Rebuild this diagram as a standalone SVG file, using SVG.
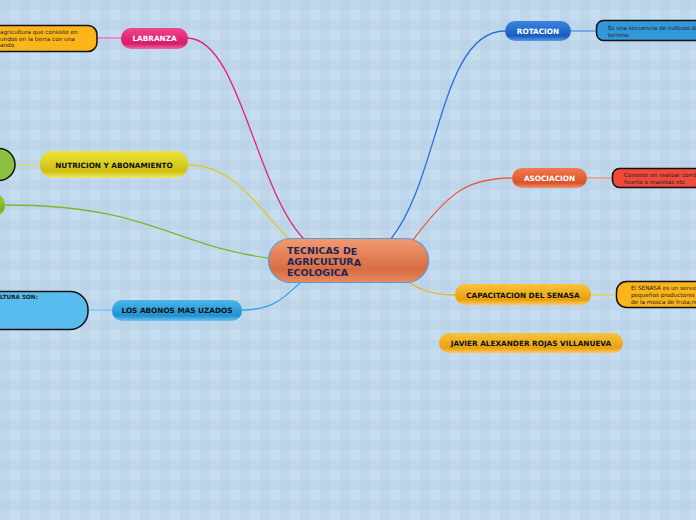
<svg xmlns="http://www.w3.org/2000/svg" width="696" height="520" viewBox="0 0 696 520">
<defs>
<pattern id="plaid" width="20" height="20" patternUnits="userSpaceOnUse">
<rect width="20" height="20" fill="#c6ddf0"/>
<rect x="0" y="0" width="10" height="20" fill="#b8cfe5" opacity="0.5"/>
<rect x="0" y="0" width="20" height="10" fill="#b8cfe5" opacity="0.5"/>
</pattern>
<linearGradient id="gCenter" x1="0" y1="0" x2="0" y2="1"><stop offset="0" stop-color="#f29a72"/><stop offset="0.7" stop-color="#d86c42"/><stop offset="1" stop-color="#e88a60"/></linearGradient>
<linearGradient id="gPink" x1="0" y1="0" x2="0" y2="1"><stop offset="0" stop-color="#f0458d"/><stop offset="0.75" stop-color="#d81a6a"/><stop offset="1" stop-color="#f06aa2"/></linearGradient>
<linearGradient id="gYellow" x1="0" y1="0" x2="0" y2="1"><stop offset="0" stop-color="#ece43a"/><stop offset="0.75" stop-color="#cfbf10"/><stop offset="1" stop-color="#ede86a"/></linearGradient>
<linearGradient id="gGreen" x1="0" y1="0" x2="0" y2="1"><stop offset="0" stop-color="#9ccf3c"/><stop offset="0.75" stop-color="#78b020"/><stop offset="1" stop-color="#a6d860"/></linearGradient>
<linearGradient id="gBlueL" x1="0" y1="0" x2="0" y2="1"><stop offset="0" stop-color="#4cb6ea"/><stop offset="0.75" stop-color="#1f92d2"/><stop offset="1" stop-color="#6cc4f0"/></linearGradient>
<linearGradient id="gBlueD" x1="0" y1="0" x2="0" y2="1"><stop offset="0" stop-color="#3a86e0"/><stop offset="0.75" stop-color="#1a5cc0"/><stop offset="1" stop-color="#5a9ae8"/></linearGradient>
<linearGradient id="gRed" x1="0" y1="0" x2="0" y2="1"><stop offset="0" stop-color="#f27a50"/><stop offset="0.75" stop-color="#dc5228"/><stop offset="1" stop-color="#f29070"/></linearGradient>
<linearGradient id="gOrange" x1="0" y1="0" x2="0" y2="1"><stop offset="0" stop-color="#f8c43a"/><stop offset="0.75" stop-color="#e8a010"/><stop offset="1" stop-color="#f8cc60"/></linearGradient>
</defs>
<style>
.t{font-family:"DejaVu Sans",Verdana,sans-serif;font-weight:bold;font-size:7.3px;}
.w{fill:#ffffff;}
.k{fill:#111111;}
.c{fill:#1a2858;font-size:9.5px;}
.leaf{stroke:#111;stroke-width:1.5;}
.lt{font-family:"DejaVu Sans",Verdana,sans-serif;font-size:5.7px;fill:#222;}
.con{fill:none;stroke-width:1.3;}
</style>
<rect width="696" height="520" fill="url(#plaid)"/>

<g id="connectors">
<path class="con" stroke="#e8207a" d="M188,38 C240,40 255,190 305,240"/>
<path class="con" stroke="#d8cc30" d="M188,165 C235,165 255,205 290,240"/>
<path class="con" stroke="#7ab82a" stroke-width="1.6" d="M5,205 C150,205 170,245 268,258"/>
<path class="con" stroke="#30a8e0" d="M242,310 C275,310 285,296 300,283"/>
<path class="con" stroke="#2a70d8" d="M390,240 C440,180 440,31 505,31"/>
<path class="con" stroke="#e86040" d="M413,240 C450,190 470,178 512,178"/>
<path class="con" stroke="#f0b020" d="M410,283 C425,293 440,295 455,295"/>
<line class="con" stroke="#e870a8" x1="97" y1="38" x2="121" y2="38"/>
<line class="con" stroke="#e0da60" x1="15" y1="165" x2="40" y2="165"/>
<line class="con" stroke="#70c4f0" x1="88" y1="310" x2="112" y2="310"/>
<line class="con" stroke="#5090e0" x1="571" y1="31" x2="596" y2="31"/>
<line class="con" stroke="#f09070" x1="587" y1="178" x2="612" y2="178"/>
<line class="con" stroke="#f0c850" x1="591" y1="295" x2="616" y2="295"/>
</g>

<g id="center">
<rect x="268.5" y="238.5" width="160" height="44" rx="22" fill="url(#gCenter)" stroke="#5b9ad2" stroke-width="1.2"/>
<text class="t c" x="287" y="254">TECNICAS D<tspan dy="1">E</tspan></text>
<text class="t c" x="287" y="265">AGRICULTUR<tspan dy="1">A</tspan></text>
<text class="t c" x="287" y="276">ECOLOGICA</text>
</g>

<g id="labranza">
<rect x="121" y="28" width="67" height="21" rx="10" fill="url(#gPink)"/>
<text class="t w" x="154.5" y="41" text-anchor="middle">LABRANZA</text>
</g>
<g id="labranza-leaf">
<rect class="leaf" x="-20" y="25.5" width="117" height="26" rx="9" fill="#fbb51a"/>
<text class="lt" x="0" y="34">agricultura que consiste en</text>
<text class="lt" x="0" y="41">undos en la tierra con una</text>
<text class="lt" x="0" y="47">ando</text>
</g>

<g id="nutricion">
<rect x="40" y="151" width="148" height="27" rx="13" fill="url(#gYellow)"/>
<text class="t k" x="114" y="168" text-anchor="middle">NUTRICION Y ABONAMIENTO</text>
</g>
<g id="nutricion-leaf">
<rect class="leaf" x="-30" y="148.5" width="45" height="32" rx="16" fill="#8bc140"/>
</g>

<g id="green-branch">
<rect x="-30" y="194" width="35" height="22" rx="10" fill="url(#gGreen)"/>
</g>

<g id="abonos">
<rect x="112" y="300" width="130" height="21" rx="10" fill="url(#gBlueL)"/>
<text class="t k" x="177" y="313" text-anchor="middle">LOS ABONOS MAS UZADOS</text>
</g>
<g id="abonos-leaf">
<rect class="leaf" x="-30" y="291.5" width="118" height="38" rx="18" fill="#58bcee"/>
<text class="lt" x="0" y="299" font-weight="bold" fill="#333">LTURA SON:</text>
</g>

<g id="rotacion">
<rect x="505" y="21" width="66" height="20" rx="10" fill="url(#gBlueD)"/>
<text class="t w" x="538" y="34" text-anchor="middle">ROTACION</text>
</g>
<g id="rotacion-leaf">
<rect class="leaf" x="596.5" y="20.5" width="130" height="20" rx="7" fill="#3298d8"/>
<text class="lt" x="608" y="30">Es una secuencia de cultivos de</text>
<text class="lt" x="608" y="37">terreno</text>
</g>

<g id="asociacion">
<rect x="512" y="168" width="75" height="20" rx="10" fill="url(#gRed)"/>
<text class="t w" x="549.5" y="181" text-anchor="middle">ASOCIACION</text>
</g>
<g id="asociacion-leaf">
<rect class="leaf" x="612.5" y="168.5" width="120" height="19" rx="7" fill="#f04a3c"/>
<text class="lt" x="624" y="177">Consiste en realizar combi</text>
<text class="lt" x="624" y="184">huerto o macetas etc</text>
</g>

<g id="senasa">
<rect x="455" y="284" width="136" height="21" rx="10" fill="url(#gOrange)"/>
<text class="t k" x="523" y="298" text-anchor="middle">CAPACITACION DEL SENASA</text>
</g>
<g id="senasa-leaf">
<rect class="leaf" x="616.5" y="281.5" width="120" height="26" rx="10" fill="#fbb51a"/>
<text class="lt" x="631" y="290">El SENASA es un servic</text>
<text class="lt" x="631" y="297">pequeños productores c</text>
<text class="lt" x="631" y="304">de la mosca de fruta,re</text>
</g>

<g id="javier">
<rect x="439" y="333" width="184" height="20" rx="10" fill="url(#gOrange)"/>
<text class="t k" x="531" y="346" text-anchor="middle">JAVIER ALEXANDER ROJAS VILLANUEVA</text>
</g>
</svg>
